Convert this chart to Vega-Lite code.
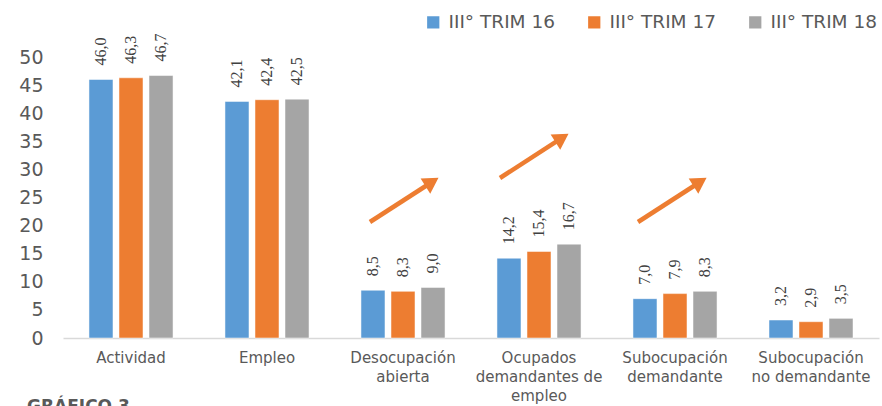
{
  "$schema": "https://vega.github.io/schema/vega-lite/v6.json",
  "autosize": "none",
  "width": 816,
  "height": 281,
  "padding": {"left": 63, "top": 57, "right": 3, "bottom": 68},
  "title": {
    "text": "GRÁFICO 3",
    "orient": "bottom",
    "anchor": "start",
    "frame": "group",
    "dx": -36,
    "offset": -4,
    "fontSize": 17,
    "fontWeight": "bold",
    "font": "DejaVu Sans",
    "color": "#595959"
  },
  "config": {
    "view": {"stroke": null},
    "locale": {"number": {"decimal": ",", "thousands": ".", "grouping": [3], "currency": ["", " €"]}},
    "axis": {"labelFont": "DejaVu Sans", "labelColor": "#595959", "grid": false, "ticks": false, "title": null}
  },
  "layer": [
    {
      "data": {"values": [
        {"categoria": "Actividad", "serie": "III° TRIM 16", "valor": 46.0},
        {"categoria": "Actividad", "serie": "III° TRIM 17", "valor": 46.3},
        {"categoria": "Actividad", "serie": "III° TRIM 18", "valor": 46.7},
        {"categoria": "Empleo", "serie": "III° TRIM 16", "valor": 42.1},
        {"categoria": "Empleo", "serie": "III° TRIM 17", "valor": 42.4},
        {"categoria": "Empleo", "serie": "III° TRIM 18", "valor": 42.5},
        {"categoria": "Desocupación abierta", "serie": "III° TRIM 16", "valor": 8.5},
        {"categoria": "Desocupación abierta", "serie": "III° TRIM 17", "valor": 8.3},
        {"categoria": "Desocupación abierta", "serie": "III° TRIM 18", "valor": 9.0},
        {"categoria": "Ocupados demandantes de empleo", "serie": "III° TRIM 16", "valor": 14.2},
        {"categoria": "Ocupados demandantes de empleo", "serie": "III° TRIM 17", "valor": 15.4},
        {"categoria": "Ocupados demandantes de empleo", "serie": "III° TRIM 18", "valor": 16.7},
        {"categoria": "Subocupación demandante", "serie": "III° TRIM 16", "valor": 7.0},
        {"categoria": "Subocupación demandante", "serie": "III° TRIM 17", "valor": 7.9},
        {"categoria": "Subocupación demandante", "serie": "III° TRIM 18", "valor": 8.3},
        {"categoria": "Subocupación no demandante", "serie": "III° TRIM 16", "valor": 3.2},
        {"categoria": "Subocupación no demandante", "serie": "III° TRIM 17", "valor": 2.9},
        {"categoria": "Subocupación no demandante", "serie": "III° TRIM 18", "valor": 3.5}
      ]},
      "encoding": {
        "x": {
          "field": "categoria", "type": "nominal", "sort": null,
          "scale": {"paddingInner": 0.382, "paddingOuter": 0.191},
          "axis": {
            "labelAngle": 0, "labelFontSize": 15, "labelLineHeight": 19, "labelPadding": 12,
            "domain": true, "domainColor": "#D9D9D9", "domainWidth": 1.5,
            "labelExpr": "datum.label == 'Desocupación abierta' ? ['Desocupación', 'abierta'] : datum.label == 'Ocupados demandantes de empleo' ? ['Ocupados', 'demandantes de', 'empleo'] : datum.label == 'Subocupación demandante' ? ['Subocupación', 'demandante'] : datum.label == 'Subocupación no demandante' ? ['Subocupación', 'no demandante'] : datum.label"
          }
        },
        "xOffset": {"field": "serie", "type": "nominal", "scale": {"paddingInner": 0.2, "paddingOuter": 0}},
        "y": {
          "field": "valor", "type": "quantitative",
          "scale": {"domain": [0, 50], "nice": false},
          "axis": {"values": [0, 5, 10, 15, 20, 25, 30, 35, 40, 45, 50], "labelFontSize": 19, "labelPadding": 20, "domain": false}
        }
      },
      "layer": [
        {
          "mark": {"type": "bar", "stroke": "white", "strokeWidth": 0.5},
          "encoding": {
            "color": {
              "field": "serie", "type": "nominal",
              "scale": {"range": ["#5B9BD5", "#ED7D31", "#A5A5A5"]},
              "legend": {
                "title": null, "orient": "none", "direction": "horizontal",
                "legendX": 361, "legendY": -44,
                "symbolType": "square", "symbolSize": 150, "symbolStrokeWidth": 0,
                "labelFont": "DejaVu Sans", "labelFontSize": 18.5, "labelColor": "#595959",
                "labelOffset": 6, "columnPadding": 30
              }
            }
          }
        },
        {
          "mark": {"type": "text", "angle": 270, "align": "left", "baseline": "middle", "dx": 14, "font": "Liberation Serif", "fontSize": 16, "color": "#404040"},
          "encoding": {"text": {"field": "valor", "type": "quantitative", "format": ".1f"}}
        }
      ]
    },
    {
      "data": {"values": [
        {"x1": 2.257, "y1": 20.64, "x2": 2.713, "y2": 27.76},
        {"x1": 3.213, "y1": 28.47, "x2": 3.669, "y2": 35.59},
        {"x1": 4.228, "y1": 20.64, "x2": 4.684, "y2": 27.76}
      ]},
      "encoding": {
        "x": {"field": "x1", "type": "quantitative", "scale": {"domain": [0, 6], "nice": false, "zero": false}, "axis": null},
        "y": {
          "field": "y1", "type": "quantitative", "scale": {"domain": [0, 50], "nice": false},
          "axis": {"values": [0, 5, 10, 15, 20, 25, 30, 35, 40, 45, 50], "labelFontSize": 19, "labelPadding": 20, "domain": false}
        }
      },
      "layer": [
        {
          "mark": {"type": "rule", "color": "#ED7D31", "strokeWidth": 4.5},
          "encoding": {"x2": {"field": "x2"}, "y2": {"field": "y2"}}
        },
        {
          "mark": {"type": "point", "shape": "triangle-right", "filled": true, "opacity": 1, "color": "#ED7D31", "size": 320, "angle": 327.5},
          "encoding": {
            "x": {"field": "x2", "type": "quantitative", "scale": {"domain": [0, 6], "nice": false, "zero": false}, "axis": null},
            "y": {
              "field": "y2", "type": "quantitative", "scale": {"domain": [0, 50], "nice": false},
              "axis": {"values": [0, 5, 10, 15, 20, 25, 30, 35, 40, 45, 50], "labelFontSize": 19, "labelPadding": 20, "domain": false}
            }
          }
        }
      ]
    }
  ],
  "resolve": {"scale": {"x": "independent"}}
}
